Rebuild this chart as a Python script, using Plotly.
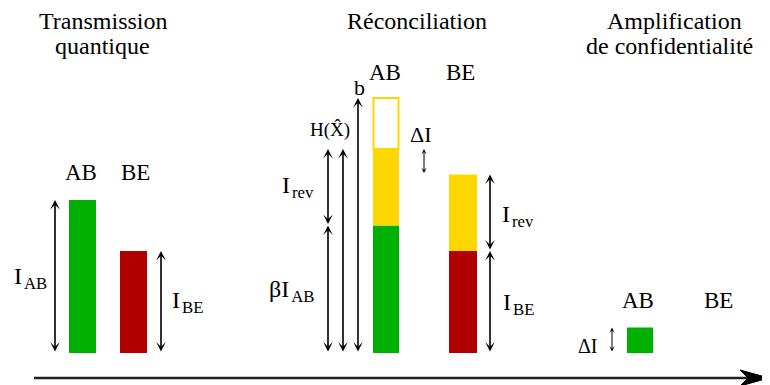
import plotly.graph_objects as go

# ---- information quantities (arbitrary units) ----
I_AB = 6.0        # mutual information Alice-Bob
I_BE = 4.0        # mutual information Bob-Eve
beta_I_AB = 5.0   # beta * I_AB
I_rev = 3.0       # revealed information
H_X = 8.0         # H(X^)
b_total = 10.0    # b
delta_I = 1.0     # secret key length

party_labels = ["AB", "BE"]
stage_titles = [["Transmission", "quantique"], ["Réconciliation"],
                ["Amplification", "de confidentialité"]]

GREEN = "#00B000"
RED = "#B00000"
YELLOW = "#FFD700"
FONT = "Liberation Serif, Times New Roman, Times, DejaVu Serif, serif"

# ---- canvas geometry (layout only) ----
W, H = 770, 385
PAGE_OFFSET = 8          # default body margin of the html page
GROUND_PX = 353          # page row of the zero line
UNIT_PX = 25.5
y_top = (GROUND_PX - PAGE_OFFSET) / UNIT_PX
y_bottom = y_top - H / UNIT_PX
o = PAGE_OFFSET


def py(p):
    """page pixel row -> y value"""
    return (GROUND_PX - p) / UNIT_PX


fig = go.Figure()

# bars: (x centre on page, width, base, height, fill, outline)
segments = [
    (82.5, 27, 0, I_AB, GREEN, None),
    (133.5, 27, 0, I_BE, RED, None),
    (386, 26, 0, beta_I_AB, GREEN, None),
    (386, 26, beta_I_AB, H_X - beta_I_AB, YELLOW, None),
    (386, 25, H_X, b_total - H_X, "white", YELLOW),
    (463, 28, 0, I_BE, RED, None),
    (463, 28, I_BE, I_rev, YELLOW, None),
    (640, 26, 0, delta_I, GREEN, None),
]
for xc, w, base, h, col, outline in segments:
    fig.add_trace(go.Bar(
        x=[xc - o], y=[h], base=[base], width=[w],
        marker=dict(color=col,
                    line=dict(color=outline if outline else col,
                              width=2 if outline else 0)),
        hoverinfo="skip", showlegend=False))

# double-headed arrows: (x on page, from, to, small)
arrows = [
    (55, 0, I_AB, False),
    (161, 0, I_BE, False),
    (328, 0, beta_I_AB, False),
    (328, beta_I_AB, H_X, False),
    (343, 0, H_X, False),
    (358, 0, b_total, False),
    (424, H_X - delta_I, H_X, True),
    (490, 0, I_BE, False),
    (490, I_BE, I_BE + I_rev, False),
    (612, 0, delta_I, True),
]
annotations = []
for x, y0, y1, small in arrows:
    annotations.append(dict(
        x=x - o, y=y1, ax=x - o, ay=y0, xref="x", yref="y", axref="x", ayref="y",
        text="", showarrow=True, arrowside="end+start",
        arrowhead=3, startarrowhead=3,
        arrowsize=0.9 if small else 1.0, startarrowsize=0.9 if small else 1.0,
        arrowwidth=1.0 if small else 1.6,
        arrowcolor="black", standoff=0, startstandoff=0))

HS = "\u200a"  # hair space between symbol and subscript

# text labels: (text, x px, y px, size)
labels = [
    (stage_titles[0][0], 103, 21, 24),
    (stage_titles[0][1], 102, 46, 24),
    (stage_titles[1][0], 417, 21, 24),
    (stage_titles[2][0], 674, 21, 24),
    (stage_titles[2][1], 669, 46, 24),
    (party_labels[0], 81, 172, 23),
    (party_labels[1], 135, 172, 23),
    (party_labels[0], 385, 72, 23),
    (party_labels[1], 460, 72, 23),
    (party_labels[0], 638, 300, 23),
    (party_labels[1], 718, 300, 23),
    ("I" + HS + "<sub>AB</sub>", 30, 278, 24),
    ("I" + HS + "<sub>BE</sub>", 187, 302, 24),
    ("I" + HS + "<sub>rev</sub>", 298, 187, 24),
    ("βI" + HS + "<sub>AB</sub>", 292, 291, 24),
    ("I" + HS + "<sub>rev</sub>", 518, 216, 24),
    ("I" + HS + "<sub>BE</sub>", 518, 304, 24),
    ("H(X\u0302)", 330, 130, 19),
    ("b", 359, 87, 22),
    ("ΔI", 420, 134, 22),
    ("ΔI", 588, 346, 20),
]
for t, xp, ypx, s in labels:
    annotations.append(dict(
        x=xp - o, y=py(ypx), xref="x", yref="y", text=t,
        showarrow=False, xanchor="center", yanchor="middle",
        font=dict(family=FONT, size=s, color="black")))

# horizontal time axis with arrow
axis_y = py(378)
shapes = [
    dict(type="line", xref="x", yref="y", x0=34 - o, x1=748 - o,
         y0=axis_y, y1=axis_y, line=dict(color="#222222", width=2.5)),
    dict(type="path", xref="x", yref="y",
         path=(f"M {769 - o},{axis_y} L {740 - o},{py(370)} L {748 - o},{axis_y} "
               f"L {740 - o},{py(386)} Z"),
         fillcolor="black", line=dict(color="black", width=1)),
]

fig.update_layout(
    width=W, height=H,
    margin=dict(l=0, r=0, t=0, b=0),
    paper_bgcolor="white", plot_bgcolor="white",
    barmode="overlay", showlegend=False,
    xaxis=dict(range=[0, W], visible=False, fixedrange=True),
    yaxis=dict(range=[y_bottom, y_top], visible=False, fixedrange=True),
    annotations=annotations, shapes=shapes,
)

fig.write_html("out.html")
